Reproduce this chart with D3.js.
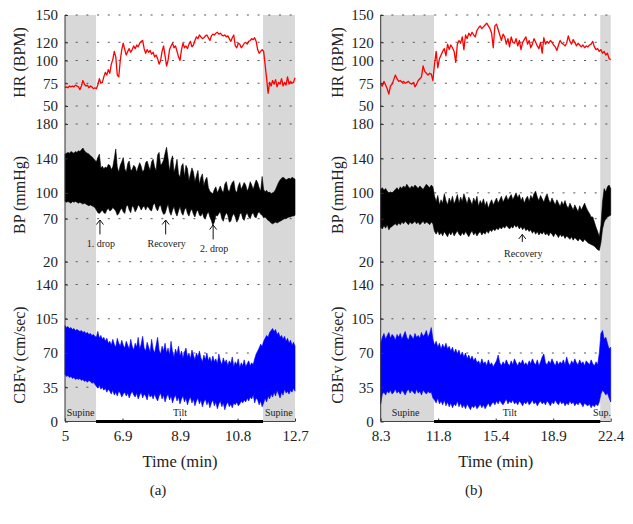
<!DOCTYPE html>
<html><head><meta charset="utf-8">
<script src="https://cdn.jsdelivr.net/npm/d3@7"></script>
<style>body{margin:0;background:#fff}svg{display:block}svg text{font-family:"Liberation Serif","DejaVu Serif",serif}</style>
</head><body>
<svg id="c" width="633" height="524"></svg>
<script>
// ---------------- DATA ----------------
const hrTicks = [50, 75, 100, 120, 150];
const bpTicks = [20, 70, 100, 140, 180];
const cbTicks = [0, 35, 70, 105, 140];

// Panel (a)
const timeDomainA = [5, 12.7];
const xTicksA = [5, 6.925, 8.85, 10.775, 12.7];
const xTickLabelsA = ["5", "6.9", "8.9", "10.8", "12.7"];
const phaseBoundsA = [[5, 6.04], [6.04, 11.63], [11.63, 12.7]];
const phaseNamesA = ["Supine", "Tilt", "Supine"];
const phaseLabelTimesA = [5.52, 8.85, 12.16];
const hrA = [
70,71,70,72,71,72,71,73,72,71,
68,72,78,74,72,73,70,72,71,69,
70,
69,73,80,75,76,82,87,84,90,86,
96,101,110,104,84,82,100,112,119,112,
106,110,113,109,112,116,113,117,115,119,
121,122,113,108,112,109,111,107,109,104,
106,102,96,100,110,116,105,94,100,112,
116,119,114,116,110,104,100,112,119,114,
116,113,118,121,115,117,122,126,124,128,
126,124,125,127,128,125,122,127,129,128,
130,131,129,130,128,127,128,126,127,124,
121,125,128,116,114,119,118,114,116,119,
120,118,121,122,124,123,125,121,112,108,
110,112,110,95,80,64,76,72,78,74,
79,71,76,74,80,72,76,73,82,74,
77,75,76,81];
const bpHiA = [
145,146,147,146,148,147,146,148,147,149,
148,150,152,149,147,146,145,143,142,140,
138,136,141,145,129,131,128,130,129,133,
132,127,130,140,151,130,124,132,136,141,
128,124,134,137,126,127,132,130,124,130,
135,131,124,127,135,137,131,126,136,139,
130,126,144,147,132,134,138,146,153,140,
125,138,143,124,130,139,122,118,131,134,
119,132,128,114,122,129,124,113,120,126,
110,118,122,108,115,118,106,102,100,99,
104,107,100,104,108,103,100,110,113,104,
101,108,112,114,103,100,108,112,104,108,
112,109,102,106,113,109,104,110,115,112,
106,102,119,104,101,103,100,101,99,100,
101,104,108,112,115,117,118,117,115,116,
117,116,118,117,116];
const bpLoA = [
90,89,90,89,88,90,89,90,89,88,
89,88,87,88,87,86,85,86,85,84,
83,80,77,76,78,80,77,76,80,82,
79,80,83,81,79,74,76,80,82,78,
76,84,86,80,77,85,83,78,81,86,
84,80,83,85,80,84,83,80,79,86,
88,82,79,84,86,79,75,76,82,87,
78,74,80,84,77,73,79,84,77,74,
80,83,76,73,79,81,75,72,78,80,
74,73,77,71,70,75,78,72,68,62,
66,74,73,76,78,70,67,73,77,74,
66,67,73,76,72,66,69,75,77,70,
68,74,77,72,70,75,77,72,71,76,
78,75,74,71,72,70,68,67,65,64,
65,66,65,66,67,68,69,70,70,71,
72,72,73,73,74];
const cbHiA = [
98,96,97,95,96,94,95,93,94,93,
92,93,91,92,90,91,89,90,88,89,
87,86,92,85,88,84,86,82,85,80,
82,78,84,79,76,85,80,77,83,78,
75,82,78,74,84,77,73,80,76,86,
74,79,87,75,72,81,76,71,84,74,
70,78,86,73,69,77,72,80,70,75,
68,82,71,66,74,69,77,67,72,65,
71,75,66,70,64,73,68,63,70,66,
72,65,61,68,63,70,62,66,60,67,
61,64,59,69,62,58,65,60,63,57,
62,59,66,56,61,58,64,55,60,57,
63,56,59,62,57,60,58,64,69,72,
75,79,77,82,85,88,86,91,93,95,
92,94,89,91,86,88,84,87,82,85,
80,83,78,81,77];
const cbLoA = [
48,46,47,45,46,44,45,43,44,43,
44,42,43,41,42,40,42,41,39,40,
38,36,34,37,33,35,32,34,30,33,
31,28,32,27,30,26,31,29,25,28,
30,26,29,24,28,31,27,25,29,23,
27,30,24,28,26,22,29,25,27,23,
28,24,21,26,29,23,27,20,25,28,
22,26,19,24,27,21,25,18,23,26,
20,24,17,22,25,19,23,16,21,24,
18,22,15,20,23,17,21,14,19,22,
16,20,13,18,21,15,19,12,17,20,
15,18,14,19,17,20,16,18,21,19,
22,20,24,21,25,23,27,19,24,22,
17,21,15,19,24,20,26,23,28,25,
30,26,32,28,24,30,27,33,29,31,
28,32,30,34,31];
const annTimesA = [6.17, 8.37, 9.96];
const annLabelsA = ["1. drop", "Recovery", "2. drop"];
const annTipA = [68.4, 68.4, 62.6];
const annBaseA = [51.7, 51.7, 45.9];

// Panel (b)
const timeDomainB = [8.3, 22.4];
const xTicksB = [8.3, 11.825, 15.35, 18.875, 22.4];
const xTickLabelsB = ["8.3", "11.8", "15.4", "18.9", "22.4"];
const phaseBoundsB = [[8.3, 11.57], [11.57, 21.76], [21.76, 22.4]];
const phaseNamesB = ["Supine", "Tilt", "Sup."];
const phaseLabelTimesB = [9.83, 16.21, 21.87];
const hrB = [
74,72,77,73,69,63,72,74,79,84,
80,77,78,76,77,75,76,77,75,74,
76,71,74,78,80,82,94,88,86,84,
86,85,78,96,110,92,102,106,110,113,
105,118,112,117,114,110,98,118,122,119,
126,112,128,124,130,127,131,128,126,133,
136,138,135,137,139,141,138,135,130,114,
138,140,134,128,122,129,126,118,124,115,
126,120,119,124,116,122,112,120,123,126,
118,122,114,118,124,120,116,113,120,108,
125,118,121,119,122,120,117,115,111,117,
122,119,118,116,119,127,121,118,123,120,
116,119,117,115,117,114,116,115,117,118,
121,115,112,113,110,112,108,110,106,108,
102,101];
const bpHiB = [
104,106,103,105,102,100,101,100,102,104,
106,103,107,105,108,106,110,107,105,108,
106,109,107,105,108,106,104,107,110,108,
106,109,107,96,90,97,86,92,88,99,
91,86,94,89,96,87,92,98,88,95,
90,99,93,87,95,91,86,94,89,96,
84,91,87,93,85,90,82,88,92,86,
90,94,88,92,96,89,93,97,91,95,
98,92,96,100,94,98,91,95,88,93,
96,90,97,93,99,102,95,91,97,93,
89,95,99,92,88,94,90,86,92,88,
84,90,86,91,85,82,88,84,80,86,
82,78,85,80,84,88,83,79,76,72,
72,66,60,55,49,62,90,105,101,107,
109,105];
const bpLoB = [
60,58,62,59,63,57,60,61,63,64,
62,65,63,66,64,67,65,63,66,64,
65,67,64,66,63,65,67,64,66,65,
63,66,64,55,52,56,51,54,50,55,
52,49,54,51,55,50,53,56,52,50,
54,51,55,52,49,53,56,51,54,50,
53,55,51,54,52,56,53,57,55,58,
56,59,57,60,58,61,59,62,60,58,
61,59,63,60,62,58,61,57,60,56,
58,55,57,53,56,52,55,51,54,52,
55,51,53,50,54,52,49,53,51,48,
52,49,51,47,50,48,46,49,45,48,
46,44,47,45,43,46,44,42,41,40,
39,38,36,34,33,42,58,66,70,72,
73,74];
const cbHiB = [
80,86,90,84,88,91,85,89,87,83,
89,86,90,84,88,92,86,83,89,87,
84,90,86,88,85,91,87,89,93,86,
90,96,84,78,82,76,80,74,79,75,
80,74,77,72,76,70,74,69,73,67,
71,66,70,64,68,63,67,62,65,60,
62,58,64,59,61,57,63,58,60,56,
59,62,68,60,57,61,58,63,59,57,
62,58,64,60,57,61,59,63,58,60,
57,62,59,64,60,58,63,57,61,66,
69,60,58,62,59,64,60,57,62,58,
61,59,63,58,66,60,57,62,59,64,
60,58,63,59,61,57,62,60,58,63,
59,57,61,58,70,90,93,84,86,80,
74,76];
const cbLoB = [
18,28,30,27,31,29,32,28,30,33,
29,31,28,32,30,27,31,33,29,32,
30,28,33,29,31,27,32,30,28,31,
29,30,24,22,19,24,18,21,17,22,
16,20,15,19,14,18,16,21,15,19,
14,17,13,18,15,12,16,14,17,13,
15,18,14,17,13,16,19,15,18,20,
17,21,18,22,19,17,20,23,18,21,
19,22,18,20,17,21,19,16,20,18,
21,17,19,22,18,20,16,19,21,18,
20,17,21,19,16,20,18,22,19,17,
21,18,20,16,19,17,21,18,20,16,
19,17,20,18,15,19,17,16,18,14,
17,15,18,16,20,28,32,30,27,29,
24,20];
const annTimesB = [16.98];
const annLabelsB = ["Recovery"];
const annTipB = [51.7];
const annBaseB = [43];

// ---------------- DRAW ----------------
const svg = d3.select("#c");
const TXT = "#222";
const TOP = 15, BOT = 421.5;
const yHR = d3.scaleLinear().domain([50, 150]).range([106, 15]);
const yBP = d3.scaleLinear().domain([20, 180]).range([261.7, 124]);
const yCB = d3.scaleLinear().domain([0, 140]).range([421.5, 284.5]);

function sampleTimes(arr, dom) {
  return arr.map((_, i) => dom[0] + i * (dom[1] - dom[0]) / (arr.length - 1));
}

function drawPanel(p) {
  const x = d3.scaleLinear().domain(p.domain).range(p.range);
  const g = svg.append("g");
  const [x0, x1] = p.range;

  p.phases.forEach((ph, i) => {
    if (i !== 1) {
      g.append("rect").attr("x", x(ph[0])).attr("y", TOP)
        .attr("width", x(ph[1]) - x(ph[0])).attr("height", BOT - TOP)
        .attr("fill", "#d8d8d8");
    }
  });

  const grid = g.append("g");
  [[yHR, hrTicks], [yBP, bpTicks], [yCB, cbTicks]].forEach(([s, ticks]) => {
    ticks.forEach(v => {
      grid.append("line").attr("x1", x0).attr("x2", x1)
        .attr("y1", s(v)).attr("y2", s(v))
        .attr("stroke", "#555").attr("stroke-width", 1)
        .attr("stroke-dasharray", "2,8.7");
    });
  });

  const tc = sampleTimes(p.cbHi, p.domain);
  g.append("path").datum(p.cbHi)
    .attr("d", d3.area().x((d, i) => x(tc[i])).y0((d, i) => yCB(p.cbLo[i])).y1(d => yCB(d)))
    .attr("fill", "#0000ff").attr("stroke", "#0000ff").attr("stroke-width", 0.6);

  const tb = sampleTimes(p.bpHi, p.domain);
  g.append("path").datum(p.bpHi)
    .attr("d", d3.area().x((d, i) => x(tb[i])).y0((d, i) => yBP(p.bpLo[i])).y1(d => yBP(d)))
    .attr("fill", "#000").attr("stroke", "#000").attr("stroke-width", 0.6);

  const th = sampleTimes(p.hr, p.domain);
  g.append("path").datum(p.hr)
    .attr("d", d3.line().x((d, i) => x(th[i])).y(d => yHR(d)))
    .attr("fill", "none").attr("stroke", "#ff0000").attr("stroke-width", 1.3)
    .attr("stroke-linejoin", "round");

  [[yHR, hrTicks], [yBP, bpTicks], [yCB, cbTicks]].forEach(([s, ticks]) => {
    const ax = g.append("g").attr("transform", `translate(${x0},0)`)
      .call(d3.axisLeft(s).tickValues(ticks).tickFormat(d3.format("d"))
        .tickSizeInner(-3).tickSizeOuter(0).tickPadding(7));
    ax.select(".domain").remove();
    ax.selectAll("line").attr("stroke", "#333");
    ax.selectAll("text").attr("font-size", 15).attr("fill", TXT);
  });
  g.append("line").attr("x1", x0).attr("x2", x0).attr("y1", TOP).attr("y2", BOT)
    .attr("stroke", "#333").attr("stroke-width", 1);

  const xa = g.append("g").attr("transform", `translate(0,${BOT})`)
    .call(d3.axisBottom(x).tickValues(p.ticks).tickFormat((d, i) => p.tickLabels[i])
      .tickSizeInner(-3).tickSizeOuter(0).tickPadding(9));
  xa.select(".domain").remove();
  xa.selectAll("line").attr("stroke", "#333");
  xa.selectAll("text").attr("font-size", 15).attr("fill", TXT);
  g.append("line").attr("x1", x0).attr("x2", x1).attr("y1", BOT).attr("y2", BOT)
    .attr("stroke", "#444").attr("stroke-width", 1);
  g.append("line").attr("x1", x(p.phases[1][0])).attr("x2", x(p.phases[1][1]))
    .attr("y1", BOT).attr("y2", BOT).attr("stroke", "#000").attr("stroke-width", 3);

  p.phaseNames.forEach((n, i) => {
    g.append("text").attr("x", x(p.phaseLabelTimes[i])).attr("y", 416)
      .attr("text-anchor", "middle").attr("font-size", 10)
      .attr("fill", TXT).text(n);
  });

  p.annTimes.forEach((t, i) => {
    const ax = x(t), yt = yBP(p.annTip[i]), yb = yBP(p.annBase[i]);
    g.append("path")
      .attr("d", `M${ax - 3.5},${yt + 4.5}L${ax},${yt}L${ax + 3.5},${yt + 4.5}M${ax},${yt}L${ax},${yb}`)
      .attr("fill", "none").attr("stroke", "#111").attr("stroke-width", 1);
    g.append("text").attr("x", ax + 1).attr("y", yb + p.annGap)
      .attr("text-anchor", "middle").attr("font-size", 10)
      .attr("fill", TXT).text(p.annLabels[i]);
  });

  const titles = [["HR (BPM)", 62.5], ["BP (mmHg)", 195], ["CBFv (cm/sec)", 355]];
  titles.forEach(([t, cy]) => {
    g.append("text").attr("transform", `translate(${x0 - p.titleOff},${cy}) rotate(-90)`)
      .attr("text-anchor", "middle").attr("dy", "0.35em")
      .attr("font-size", 16).attr("fill", TXT).text(t);
  });
  g.append("text").attr("x", (x0 + x1) / 2).attr("y", 467)
    .attr("text-anchor", "middle").attr("font-size", 16.5)
    .attr("fill", TXT).text("Time (min)");
  g.append("text").attr("x", (x0 + x1) / 2 - 22).attr("y", 495)
    .attr("text-anchor", "middle").attr("font-size", 15)
    .attr("fill", TXT).text(p.caption);
}

drawPanel({
  domain: timeDomainA, range: [65, 295], ticks: xTicksA, tickLabels: xTickLabelsA,
  phases: phaseBoundsA, phaseNames: phaseNamesA, phaseLabelTimes: phaseLabelTimesA,
  hr: hrA, bpHi: bpHiA, bpLo: bpLoA, cbHi: cbHiA, cbLo: cbLoA,
  annTimes: annTimesA, annLabels: annLabelsA, annTip: annTipA, annBase: annBaseA, annGap: 13,
  titleOff: 46, caption: "(a)"
});
drawPanel({
  domain: timeDomainB, range: [380.7, 610.7], ticks: xTicksB, tickLabels: xTickLabelsB,
  phases: phaseBoundsB, phaseNames: phaseNamesB, phaseLabelTimes: phaseLabelTimesB,
  hr: hrB, bpHi: bpHiB, bpLo: bpLoB, cbHi: cbHiB, cbLo: cbLoB,
  annTimes: annTimesB, annLabels: annLabelsB, annTip: annTipB, annBase: annBaseB, annGap: 15,
  titleOff: 43.5, caption: "(b)"
});
</script>
</body></html>
